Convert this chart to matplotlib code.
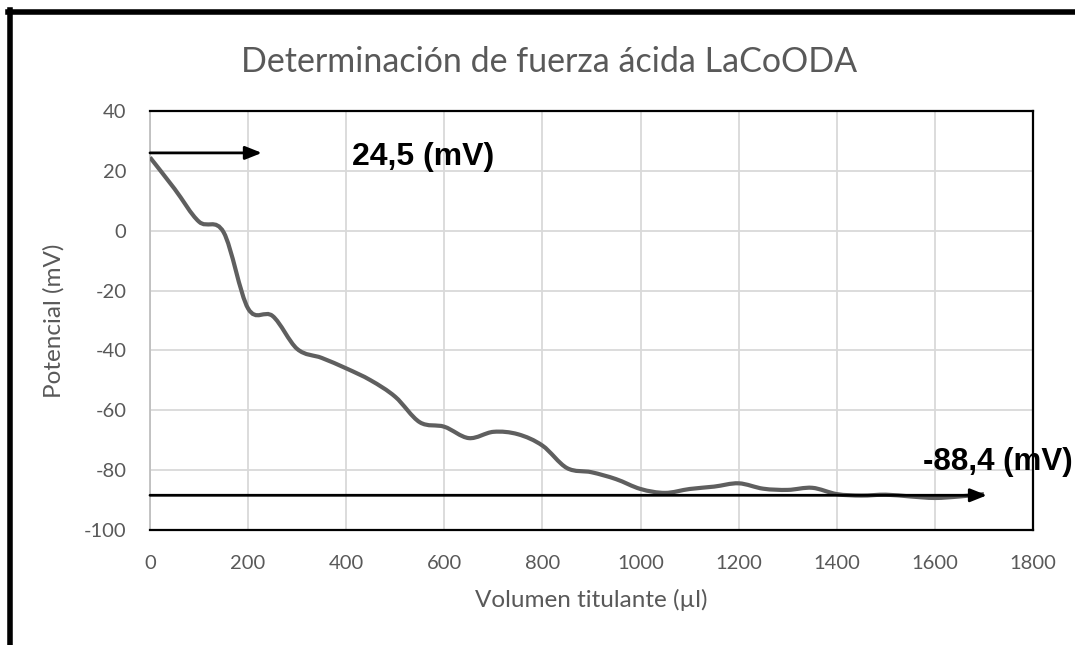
import matplotlib.pyplot as plt
from matplotlib.path import Path
from matplotlib.patches import PathPatch
from matplotlib.lines import Line2D

# ============================================================
# Data
# ============================================================

volumen = [0, 50, 100, 150, 200, 250, 300, 350, 400, 450, 500, 550, 600,
           650, 700, 750, 800, 850, 900, 950, 1000, 1050, 1100, 1150, 1200,
           1250, 1300, 1350, 1400, 1450, 1500, 1550, 1600, 1650, 1700]
potencial = [24.5, 14.0, 3.0, -0.5, -26.0, -28.5, -39.5, -42.5, -46.0, -50.0,
             -55.5, -64.0, -65.5, -69.3, -67.2, -68.0, -71.8, -79.3, -80.7,
             -83.0, -86.3, -87.6, -86.3, -85.5, -84.4, -86.2, -86.6, -85.9,
             -88.0, -88.5, -88.2, -88.8, -89.3, -88.8, -88.0]

x_ticks = [0, 200, 400, 600, 800, 1000, 1200, 1400, 1600, 1800]
y_ticks = [-100, -80, -60, -40, -20, 0, 20, 40]

inicio_valor = 24.5
final_valor = -88.4

GRAY_TEXT = "#595959"
LINE_COLOR = "#5f5f5f"
FONT = ["Lato", "DejaVu Sans"]

plt.rcParams["axes.unicode_minus"] = False


def smooth_path(xs, ys):
    # cubic bezier segments through the points (Excel-like smoothed line)
    verts = [(xs[0], ys[0])]
    codes = [Path.MOVETO]
    n = len(xs)
    for i in range(n - 1):
        x0, y0 = (xs[i - 1], ys[i - 1]) if i > 0 else (xs[i], ys[i])
        x1, y1 = xs[i], ys[i]
        x2, y2 = xs[i + 1], ys[i + 1]
        x3, y3 = (xs[i + 2], ys[i + 2]) if i + 2 < n else (x2, y2)
        c1 = (x1 + (x2 - x0) / 6, y1 + (y2 - y0) / 6)
        c2 = (x2 - (x3 - x1) / 6, y2 - (y3 - y1) / 6)
        verts += [c1, c2, (x2, y2)]
        codes += [Path.CURVE4] * 3
    return Path(verts, codes)


# ============================================================
# Figure
# ============================================================

fig = plt.figure(figsize=(10.75, 6.45), dpi=100)
ax = fig.add_axes([150 / 1075, 1 - 530 / 645, 883 / 1075, 419 / 645])

ax.set_xlim(0, 1800)
ax.set_ylim(-100, 40)
ax.set_xticks(x_ticks)
ax.set_yticks(y_ticks)
ax.tick_params(length=0, labelsize=14.5, labelcolor=GRAY_TEXT)
ax.tick_params(axis="x", pad=18)
ax.tick_params(axis="y", pad=17)
for lab in ax.get_xticklabels() + ax.get_yticklabels():
    lab.set_family(FONT)
ax.grid(True, color="#d9d9d9", linewidth=1.3)
ax.set_axisbelow(True)

for side in ["top", "right", "bottom"]:
    ax.spines[side].set_color("black")
    ax.spines[side].set_linewidth(1.6)
ax.spines["left"].set_color("#bfbfbf")
ax.spines["left"].set_linewidth(1.3)

ax.add_patch(PathPatch(smooth_path(volumen, potencial), facecolor="none",
                       edgecolor=LINE_COLOR, linewidth=3, zorder=3))

# arrows
ax.annotate("", xy=(228, 26), xytext=(0, 26),
            arrowprops=dict(arrowstyle="-|>,head_length=1.0,head_width=0.4",
                            color="black", lw=2, shrinkA=0, shrinkB=0),
            annotation_clip=False, zorder=4)
ax.annotate("", xy=(1706, final_valor), xytext=(0, final_valor),
            arrowprops=dict(arrowstyle="-|>,head_length=1.0,head_width=0.4",
                            color="black", lw=2, shrinkA=0, shrinkB=0),
            annotation_clip=False, zorder=4)

ax.text(412, 24.6, "24,5 (mV)", fontsize=23, fontweight="bold",
        family="Liberation Sans", va="center", ha="left")
ax.text(1576, -77.3, "-88,4 (mV)", fontsize=22.5, fontweight="bold",
        family="Liberation Sans", va="center", ha="left", clip_on=False)

ax.set_xlabel("Volumen titulante (µl)", fontsize=17.5, color=GRAY_TEXT,
              family=FONT, labelpad=12)
ax.set_ylabel("Potencial (mV)", fontsize=17.5, color=GRAY_TEXT,
              family=FONT, labelpad=14)

fig.text(549 / 1075, 1 - 62 / 645, "Determinación de fuerza ácida LaCoODA",
         fontsize=24.5, color=GRAY_TEXT, family=FONT, ha="center", va="center")

# outer frame (left and top edge visible)
fig.add_artist(Line2D([10 / 1075, 10 / 1075], [0, 1 - 10 / 645],
                      color="black", linewidth=4, transform=fig.transFigure))
fig.add_artist(Line2D([8 / 1075, 1], [1 - 12 / 645, 1 - 12 / 645],
                      color="black", linewidth=4, transform=fig.transFigure))

fig.savefig("out.png", dpi=100)
